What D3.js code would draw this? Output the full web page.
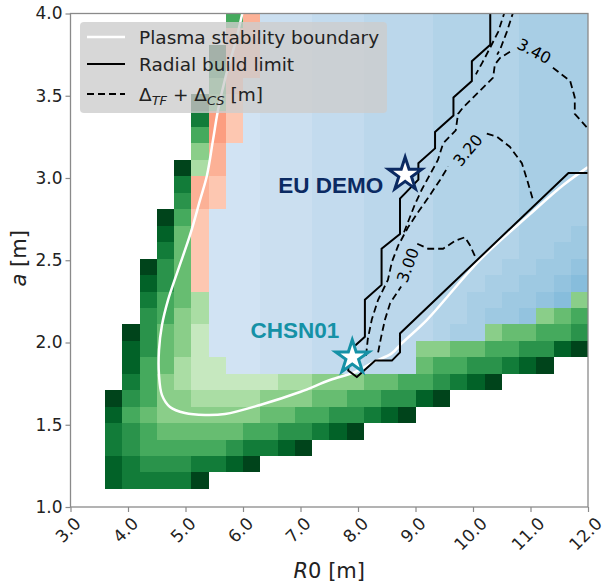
<!DOCTYPE html>
<html>
<head>
<meta charset="utf-8">
<script src="https://cdn.jsdelivr.net/npm/d3@7/dist/d3.min.js"></script>
<style>
  body { margin: 0; background: #fff; }
  svg { display: block; font-family: "DejaVu Sans", sans-serif; }
</style>
</head>
<body>
<svg width="605" height="586"></svg>
<script>
// cell edges of the R0 / a grid
let r0Edges = [3.6, 3.9, 4.2, 4.5, 4.8, 5.1, 5.4, 5.7, 6.0, 6.3, 6.6, 6.9, 7.2, 7.5, 7.8,
               8.1, 8.4, 8.7, 9.0, 9.3, 9.6, 9.9, 10.2, 10.5, 10.8, 11.1, 11.4, 11.7, 12.0];
let aEdges = [1.11, 1.21, 1.31, 1.41, 1.51, 1.61, 1.71, 1.81, 1.91, 2.01, 2.11, 2.21, 2.31, 2.41, 2.51,
              2.61, 2.71, 2.81, 2.91, 3.01, 3.11, 3.21, 3.31, 3.41, 3.51, 3.61, 3.71, 3.81, 3.91, 4.01];

// one string per row, top row first. 1-9 green level, r/s/t salmon level, A-I blue level, . empty
let cellCodes = [
  ".......5sBBBCCCDDDDEEEEEFFFF",
  ".......ssBBBCCCDDDDEEEEEFFFF",
  "......9ssBBBCCCDDDDEEEEEFFFF",
  "......7ssBBBCCCDDDDEEEEEFFFF",
  "......5sABBBCCCDDDDEEEEEFFFF",
  ".....94rABBBCCCDDDDEEEEEFFFF",
  ".....7trABBBCCCDDDDEEEEEFFFF",
  ".....5trABBBCCCDDDDEEEEEFFFF",
  ".....3sAABBBCCCDDDDEEEEEFFFF",
  "....92sAABBBCCCDDDDEEEEEFFFF",
  "....7srAABBBCCCDDDDEEEEEFFFF",
  "....6srAABBBCCCDDDDEEEEEFFFF",
  "...95rAAABBBCCCDDDDEEEEEFFFF",
  "...84rAAABBBCCCDDDDEEEEEFFFG",
  "...74rAAABBBCCCDDDDEEEEEFFGG",
  "..964rAAABBBCCCDDDDEEEEFFGGH",
  "..864rAAABBBCCCDDDDEEEFFGGHI",
  "..7542AAABBBCCCDDDDEEFFGGHI3",
  "..6532AAABBBCCCDDDDEEFGGH345",
  ".96431AAABBBCCCDDDDEFF344556",
  ".86431AAABBBCCCDDD3344556689",
  ".854211AABBBCCCDDD45566789..",
  ".7532111112233344556789.....",
  "96533222233344556689........",
  "854333333445566789..........",
  "765444445566789.............",
  "765555567789................",
  "876667789...................",
  "877779......................"
];

let xTicks = [3, 4, 5, 6, 7, 8, 9, 10, 11, 12];
let yTicks = [1.0, 1.5, 2.0, 2.5, 3.0, 3.5, 4.0];

// lines, [R0, a]
let plasmaBoundary = [[6.0, 4.02], [5.878, 3.837], [5.704, 3.625], [5.565, 3.412], [5.478, 3.23], [5.374, 3.017],
  [5.252, 2.865], [5.078, 2.652], [4.87, 2.44], [4.696, 2.258], [4.591, 2.106], [4.539, 1.954], [4.539, 1.802],
  [4.591, 1.68], [4.73, 1.608], [4.991, 1.571], [5.339, 1.559], [5.687, 1.565], [6.296, 1.62], [6.991, 1.699],
  [7.513, 1.772], [7.948, 1.82], [8.266, 1.88], [8.586, 1.934], [8.76, 1.995], [9.195, 2.136], [10.117, 2.501],
  [10.991, 2.78], [11.565, 2.956], [12.0, 3.066]];

let radialBuild = [[10.3, 4.02], [10.3, 3.81], [9.98, 3.71], [9.98, 3.59], [9.66, 3.49], [9.66, 3.38], [9.34, 3.28],
  [9.34, 3.18], [9.05, 3.09], [9.05, 2.99], [8.73, 2.875], [8.73, 2.66], [8.41, 2.57], [8.41, 2.35], [8.12, 2.26],
  [8.12, 2.035], [7.85, 1.95], [7.83, 1.83], [7.98, 1.79], [8.3, 1.89], [8.59, 1.89], [8.73, 1.94], [8.73, 2.055],
  [11.66, 3.03], [12.0, 3.03]];

let contourPieces = [
  [[8.35, 1.94], [8.4, 2.03], [8.47, 2.14], [8.56, 2.24], [8.75, 2.34]],
  [[9.03, 2.6], [9.22, 2.57], [9.48, 2.57], [9.7, 2.62], [9.86, 2.64], [9.95, 2.59], [10.04, 2.52]],
  [[8.14, 1.92], [8.17, 2.02], [8.24, 2.14], [8.35, 2.26], [8.52, 2.38], [8.59, 2.49], [8.7, 2.59], [8.87, 2.7],
   [9.04, 2.79], [9.22, 2.88], [9.43, 2.99], [9.57, 3.07]],
  [[10.24, 3.27], [10.42, 3.25], [10.64, 3.19], [10.85, 3.09], [10.94, 2.99], [11.04, 2.87]],
  [[8.8, 2.67], [8.99, 2.84], [9.11, 2.93], [9.25, 3.02], [9.39, 3.11], [9.48, 3.21], [9.7, 3.29], [9.74, 3.39],
   [9.83, 3.43], [10.09, 3.52], [10.35, 3.61], [10.38, 3.69], [10.47, 3.73], [10.7, 3.78]],
  [[11.39, 3.67], [11.69, 3.59], [11.77, 3.49], [11.77, 3.39], [12.0, 3.3]],
  [[10.56, 4.02], [10.44, 3.89], [10.28, 3.78], [10.16, 3.7], [10.05, 3.63]],
  [[10.71, 4.02], [10.59, 3.89], [10.47, 3.78], [10.42, 3.75]]
];

let contourLabels = ["3.00", "3.20", "3.40"];
let contourLabelR0 = [8.87, 9.913, 11.061];
let contourLabelA = [2.47, 3.169, 3.77];
let contourLabelAngle = [-70, -50, 28];

let designNames = ["EU DEMO", "CHSN01"];
let designR0 = [8.82, 7.9];
let designA = [3.02, 1.91];

let svg = d3.select("svg");

let x = d3.scaleLinear().domain([3, 12]).range([70.5, 588]);
let y = d3.scaleLinear().domain([1, 4]).range([507, 13.5]);

svg.append("clipPath").attr("id", "clip")
  .append("rect")
  .attr("x", x(3)).attr("y", y(4))
  .attr("width", x(12) - x(3)).attr("height", y(1) - y(4));

let greenCodes = "123456789";
let blueCodes = "ABCDEFGHI";
let salmonLevels = {r: 0.21, s: 0.28, t: 0.34};

function cellColour(code) {
  if (greenCodes.indexOf(code) >= 0) return d3.interpolateGreens(0.25 + (+code - 1) * 0.09375);
  if (salmonLevels[code] !== undefined) return d3.interpolateReds(salmonLevels[code]);
  return d3.interpolateBlues(0.19 + blueCodes.indexOf(code) * 0.03);
}

let cells = [];
cellCodes.forEach(function(row, i) {
  let j = cellCodes.length - 1 - i;
  row.split("").forEach(function(code, c) {
    if (code === ".") return;
    cells.push({r0a: r0Edges[c], r0b: r0Edges[c + 1], a0: aEdges[j], a1: aEdges[j + 1], code: code});
  });
});

let plot = svg.append("g").attr("clip-path", "url(#clip)");

plot.append("g").selectAll("rect")
  .data(cells)
  .enter().append("rect")
  .attr("x", function(d) { return Math.round(x(d.r0a)); })
  .attr("y", function(d) { return Math.round(y(d.a1)); })
  .attr("width", function(d) { return Math.round(x(d.r0b)) - Math.round(x(d.r0a)); })
  .attr("height", function(d) { return Math.round(y(d.a0)) - Math.round(y(d.a1)); })
  .attr("fill", function(d) { return cellColour(d.code); });

let line = d3.line()
  .x(function(d) { return x(d[0]); })
  .y(function(d) { return y(d[1]); });

plot.append("path")
  .datum(plasmaBoundary)
  .attr("d", line.curve(d3.curveCatmullRom.alpha(0.5)))
  .attr("fill", "none").attr("stroke", "#fff").attr("stroke-width", 2.5);

line.curve(d3.curveLinear);

plot.append("path")
  .datum(radialBuild)
  .attr("d", line)
  .attr("fill", "none").attr("stroke", "#000").attr("stroke-width", 2)
  .attr("stroke-linejoin", "miter");

plot.selectAll(".contour")
  .data(contourPieces)
  .enter().append("path")
  .attr("class", "contour")
  .attr("d", line)
  .attr("fill", "none").attr("stroke", "#000").attr("stroke-width", 1.8)
  .attr("stroke-dasharray", "7,4");

plot.selectAll(".clabel")
  .data(contourLabels)
  .enter().append("text")
  .attr("class", "clabel")
  .attr("transform", function(d, i) {
    return "translate(" + x(contourLabelR0[i]) + "," + y(contourLabelA[i]) + ") rotate(" + contourLabelAngle[i] + ")";
  })
  .attr("text-anchor", "middle")
  .attr("dominant-baseline", "central")
  .style("font-size", "16px")
  .attr("fill", "#000")
  .text(function(d) { return d; });

// design points
function starPath(r) {
  let pts = [];
  for (let i = 0; i < 10; i++) {
    let rad = i % 2 === 0 ? r : r * 0.382;
    let ang = -Math.PI / 2 + i * Math.PI / 5;
    pts.push([rad * Math.cos(ang), rad * Math.sin(ang)]);
  }
  return "M" + pts.join("L") + "Z";
}

let designColours = ["#0b2a62", "#1591a6"];
let labelDx = [-22, -13];
let labelDy = [18, -19];

designNames.forEach(function(name, i) {
  let cx = x(designR0[i]), cy = y(designA[i]);
  svg.append("path")
    .attr("d", starPath(17.5))
    .attr("transform", "translate(" + cx + "," + cy + ")")
    .attr("fill", "#fff")
    .attr("stroke", designColours[i])
    .attr("stroke-width", 3)
    .attr("stroke-linejoin", "miter");
  svg.append("text")
    .attr("x", cx + labelDx[i])
    .attr("y", cy + labelDy[i])
    .attr("text-anchor", "end")
    .style("font-family", "'Liberation Sans', Arial, sans-serif")
    .style("font-weight", "bold")
    .style("font-size", "22.5px")
    .attr("fill", designColours[i])
    .text(name);
});

// axes
let xGroup = svg.append("g")
  .attr("transform", "translate(0," + y(1) + ")")
  .call(d3.axisBottom(x).tickValues(xTicks).tickFormat(d3.format(".1f")).tickSize(5));

let yGroup = svg.append("g")
  .attr("transform", "translate(" + x(3) + ",0)")
  .call(d3.axisLeft(y).tickValues(yTicks).tickFormat(d3.format(".1f")).tickSize(5).tickPadding(3));

[xGroup, yGroup].forEach(function(ax) {
  ax.select(".domain").remove();
  ax.selectAll(".tick line").attr("stroke", "#8a8a8a").attr("stroke-width", 1.2);
  ax.selectAll("text")
    .attr("fill", "#222")
    .style("font-size", "17px")
    .style("font-family", "'DejaVu Sans', sans-serif");
});

xGroup.selectAll("text")
  .attr("y", null).attr("dy", null).attr("x", 0)
  .attr("text-anchor", "middle")
  .attr("dominant-baseline", "central")
  .attr("transform", function() {
    let w = this.getComputedTextLength();
    let off = 9 + (w + 12.4) / (2 * Math.SQRT2);
    return "translate(-3," + off + ") rotate(-45)";
  });

svg.append("rect")
  .attr("x", x(3)).attr("y", y(4))
  .attr("width", x(12) - x(3)).attr("height", y(1) - y(4))
  .attr("fill", "none")
  .attr("stroke", "#8a8a8a")
  .attr("stroke-width", 1.3);

let xLabel = svg.append("text")
  .attr("x", (x(3) + x(12)) / 2)
  .attr("y", 578)
  .attr("text-anchor", "middle")
  .style("font-size", "21px")
  .attr("fill", "#222");
xLabel.append("tspan").style("font-style", "italic").text("R");
xLabel.append("tspan").text("0 [m]");

let yLabel = svg.append("text")
  .attr("transform", "translate(26," + (y(2.5) - 2) + ") rotate(-90)")
  .attr("text-anchor", "middle")
  .style("font-size", "21px")
  .attr("fill", "#222");
yLabel.append("tspan").style("font-style", "italic").text("a");
yLabel.append("tspan").text(" [m]");

// legend
let legend = svg.append("g");
legend.append("rect")
  .attr("x", 80).attr("y", 22).attr("width", 307).attr("height", 91)
  .attr("rx", 4)
  .attr("fill", "#cdcdcd")
  .attr("fill-opacity", 0.8);

let legendY = [37, 64, 94];
legend.append("line").attr("x1", 87).attr("x2", 125).attr("y1", legendY[0]).attr("y2", legendY[0])
  .attr("stroke", "#fff").attr("stroke-width", 2.5);
legend.append("line").attr("x1", 87).attr("x2", 125).attr("y1", legendY[1]).attr("y2", legendY[1])
  .attr("stroke", "#000").attr("stroke-width", 2);
legend.append("line").attr("x1", 87).attr("x2", 125).attr("y1", legendY[2]).attr("y2", legendY[2])
  .attr("stroke", "#000").attr("stroke-width", 1.8).attr("stroke-dasharray", "7,4");

legend.append("text").attr("x", 139).attr("y", legendY[0] + 6.5)
  .style("font-size", "18.5px").attr("fill", "#222").text("Plasma stability boundary");
legend.append("text").attr("x", 139).attr("y", legendY[1] + 6.5)
  .style("font-size", "18.5px").attr("fill", "#222").text("Radial build limit");

let lt = legend.append("text").attr("x", 139).attr("y", legendY[2] + 6.5)
  .style("font-size", "18.5px").attr("fill", "#222");
lt.append("tspan").text("Δ");
lt.append("tspan").style("font-style", "italic").style("font-size", "13px").attr("dy", 4).text("TF");
lt.append("tspan").attr("dy", -4).text(" + Δ");
lt.append("tspan").style("font-style", "italic").style("font-size", "13px").attr("dy", 4).text("CS");
lt.append("tspan").attr("dy", -4).text(" [m]");
</script>
</body>
</html>
